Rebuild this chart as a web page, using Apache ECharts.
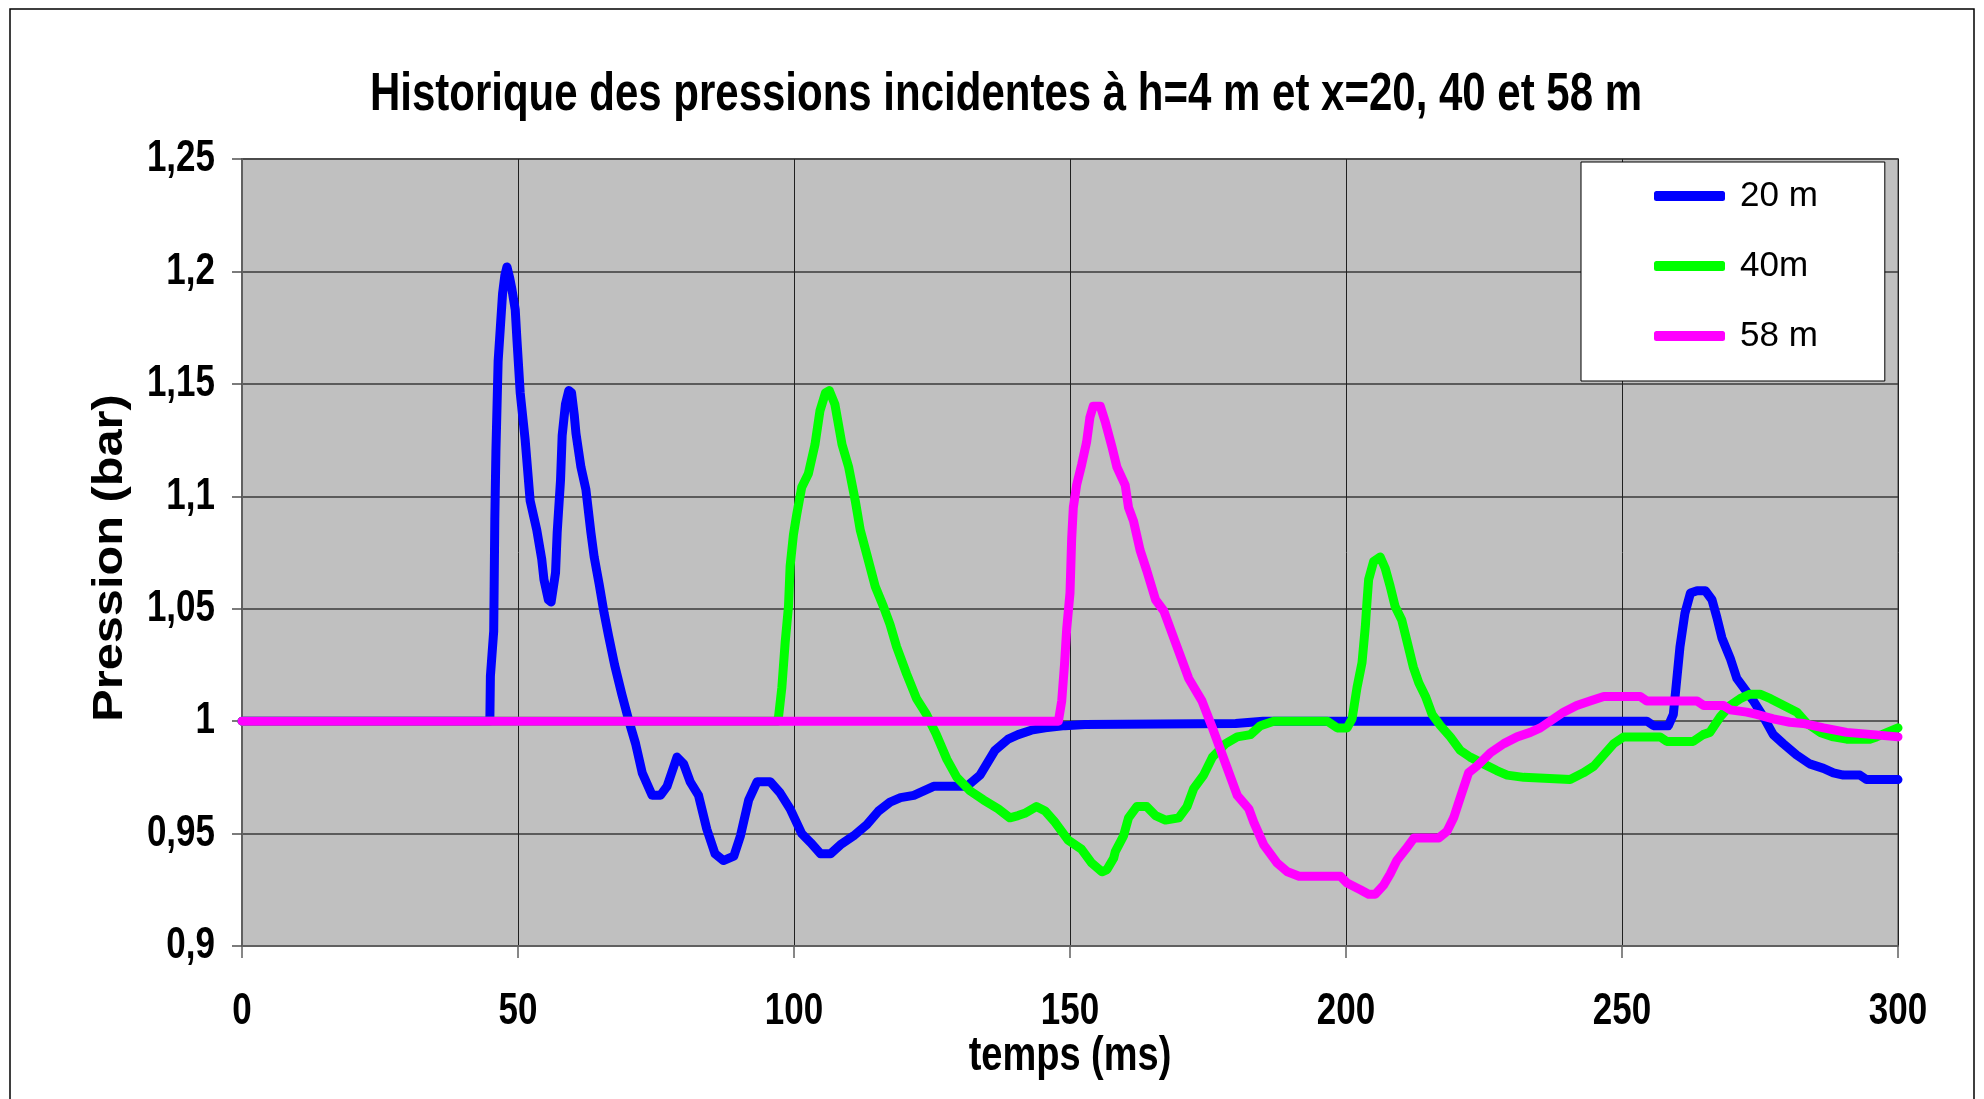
<!DOCTYPE html>
<html>
<head>
<meta charset="utf-8">
<script src="https://cdn.jsdelivr.net/npm/echarts@6/dist/echarts.min.js"></script>
<style>
  html, body { margin: 0; padding: 0; background: #fff; }
  #chart { width: 1984px; height: 1099px; }
</style>
</head>
<body>
<div id="chart"></div>
<script>
// Incident pressure histories (bar) versus time (ms) at h = 4 m
const seriesNames = ['20 m', '40m', '58 m'];
const seriesColors = ['#0000ff', '#00ff00', '#ff00ff'];

const xTicks = [0, 50, 100, 150, 200, 250, 300];
const yTicks = [0.9, 0.95, 1.0, 1.05, 1.1, 1.15, 1.2, 1.25];
const yTickLabels = ['0,9', '0,95', '1', '1,05', '1,1', '1,15', '1,2', '1,25'];

// x = 20 m
const p20 = [
  [0, 1.0], [44.9, 1.0], [45.0, 1.02], [45.3, 1.03], [45.6, 1.04], [45.8, 1.09], [46.0, 1.12],
  [46.4, 1.16], [46.8, 1.175], [47.2, 1.19], [47.6, 1.198], [48.0, 1.202], [48.5, 1.197],
  [48.9, 1.192], [49.5, 1.183], [49.8, 1.170], [50.4, 1.146], [51.3, 1.125], [52.2, 1.098],
  [53.4, 1.085], [54.3, 1.072], [54.7, 1.063], [55.5, 1.054], [56.0, 1.053], [56.8, 1.066],
  [57.1, 1.084], [57.7, 1.107], [58.0, 1.127], [58.6, 1.141], [59.2, 1.147], [59.7, 1.146],
  [60.2, 1.136], [60.5, 1.128], [61.4, 1.113], [62.3, 1.103], [63.2, 1.084], [63.8, 1.073],
  [64.7, 1.061], [65.6, 1.048], [66.4, 1.038], [67.5, 1.025], [68.8, 1.012], [70.1, 1.0],
  [71.3, 0.990], [72.5, 0.977], [74.3, 0.967], [75.8, 0.967], [77.0, 0.971], [78.8, 0.984],
  [80.0, 0.981], [81.2, 0.973], [82.7, 0.967], [84.2, 0.952], [85.7, 0.941], [87.2, 0.938],
  [89.1, 0.940], [90.3, 0.949], [91.8, 0.965], [93.3, 0.973], [95.7, 0.973], [97.5, 0.968],
  [99.3, 0.961], [101.4, 0.950], [103.0, 0.946], [104.8, 0.941], [106.6, 0.941], [108.4, 0.945],
  [110.8, 0.949], [113.2, 0.954], [115.3, 0.960], [117.4, 0.964], [119.3, 0.966], [121.7, 0.967],
  [123.5, 0.969], [125.3, 0.971], [131.3, 0.971], [133.7, 0.976], [136.4, 0.987], [138.8, 0.992],
  [140.6, 0.994], [143.0, 0.996], [145.5, 0.997], [149.1, 0.998], [152.7, 0.9985], [180, 0.999],
  [185, 1.0], [254.5, 1.0], [255.7, 0.998], [258.4, 0.998], [259.3, 1.003], [259.9, 1.018],
  [260.5, 1.033], [261.4, 1.048], [262.4, 1.057], [263.6, 1.058], [265.1, 1.058], [266.3, 1.054],
  [267.2, 1.046], [268.1, 1.037], [269.6, 1.028], [270.8, 1.019], [272.0, 1.015], [273.8, 1.009],
  [275.6, 1.002], [277.4, 0.994], [279.2, 0.990], [281.6, 0.985], [284.0, 0.981], [286.5, 0.979],
  [288.3, 0.977], [290.1, 0.976], [293.1, 0.976], [294.3, 0.974], [300, 0.974]
];

// x = 40 m
const p40 = [
  [0, 1.0], [97.0, 1.0], [97.2, 1.002], [97.8, 1.015], [98.4, 1.035], [99.0, 1.051], [99.3, 1.069],
  [99.9, 1.083], [100.5, 1.092], [101.4, 1.104], [102.6, 1.110], [103.8, 1.123], [104.7, 1.138],
  [105.7, 1.146], [106.4, 1.147], [107.4, 1.141], [108.7, 1.123], [109.9, 1.113], [111.1, 1.098],
  [112.0, 1.085], [113.2, 1.074], [114.7, 1.060], [116.2, 1.051], [117.4, 1.043], [118.6, 1.033],
  [120.4, 1.021], [122.2, 1.010], [124.0, 1.003], [125.8, 0.994], [127.7, 0.983], [129.5, 0.975],
  [131.9, 0.969], [134.3, 0.965], [137.0, 0.961], [139.1, 0.957], [140.6, 0.958], [141.8, 0.959],
  [143.9, 0.962], [145.5, 0.960], [147.3, 0.955], [149.7, 0.947], [152.1, 0.943], [153.9, 0.937],
  [155.8, 0.933], [156.7, 0.934], [157.9, 0.939], [158.2, 0.942], [159.7, 0.949], [160.6, 0.957],
  [162.1, 0.962], [163.9, 0.962], [165.5, 0.958], [167.3, 0.956], [169.7, 0.957], [171.2, 0.962],
  [172.4, 0.970], [174.2, 0.976], [175.8, 0.984], [178.2, 0.990], [180.3, 0.993], [182.7, 0.994],
  [184.5, 0.998], [186.9, 1.0], [196.6, 1.0], [198.4, 0.997], [200.2, 0.997], [201.1, 1.001],
  [202.0, 1.015], [202.9, 1.026], [203.5, 1.042], [203.8, 1.053], [204.1, 1.063], [205.0, 1.071],
  [206.2, 1.073], [207.1, 1.068], [208.0, 1.060], [208.9, 1.051], [210.1, 1.045], [211.0, 1.036],
  [212.2, 1.024], [213.2, 1.017], [214.4, 1.011], [215.6, 1.003], [217.1, 0.998], [218.9, 0.993],
  [220.7, 0.987], [222.5, 0.984], [224.9, 0.981], [227.3, 0.978], [229.2, 0.976], [232.2, 0.975],
  [240.6, 0.974], [243.0, 0.977], [244.9, 0.980], [246.7, 0.985], [248.5, 0.990], [250.3, 0.993],
  [256.9, 0.993], [258.1, 0.991], [262.9, 0.991], [264.7, 0.994], [265.9, 0.995], [267.8, 1.002],
  [269.6, 1.007], [271.4, 1.010], [273.2, 1.012], [275.0, 1.012], [276.9, 1.010], [279.3, 1.007],
  [281.7, 1.004], [283.5, 0.999], [285.9, 0.995], [288.3, 0.993], [290.7, 0.992], [294.9, 0.992],
  [296.1, 0.993], [300, 0.997]
];

// x = 58 m
const p58 = [
  [0, 1.0], [147.9, 1.0], [148.5, 1.009], [149.0, 1.025], [149.4, 1.041], [150.0, 1.057],
  [150.3, 1.081], [150.6, 1.095], [151.2, 1.105], [152.1, 1.114], [153.0, 1.124], [153.6, 1.135],
  [154.2, 1.140], [155.5, 1.140], [156.4, 1.133], [157.6, 1.122], [158.5, 1.113], [160.0, 1.105],
  [160.6, 1.095], [161.5, 1.089], [162.7, 1.076], [163.9, 1.067], [165.5, 1.054], [167.0, 1.049],
  [169.1, 1.035], [171.5, 1.019], [173.9, 1.009], [175.8, 0.997], [178.2, 0.981], [180.3, 0.967],
  [182.4, 0.961], [183.3, 0.955], [185.1, 0.945], [187.5, 0.937], [189.4, 0.933], [191.5, 0.931],
  [199.0, 0.931], [200.2, 0.928], [202.6, 0.925], [204.1, 0.923], [205.3, 0.923], [206.8, 0.927],
  [208.0, 0.932], [209.2, 0.938], [210.8, 0.943], [212.3, 0.948], [216.8, 0.948], [218.3, 0.951],
  [219.5, 0.957], [220.7, 0.966], [222.2, 0.977], [223.7, 0.980], [226.2, 0.986], [228.6, 0.990],
  [231.0, 0.993], [233.4, 0.995], [235.2, 0.997], [237.6, 1.001], [239.4, 1.004], [241.8, 1.007],
  [244.2, 1.009], [246.7, 1.011], [253.3, 1.011], [254.5, 1.009], [263.6, 1.009], [264.8, 1.007],
  [268.4, 1.007], [269.6, 1.005], [272.6, 1.004], [274.4, 1.003], [277.4, 1.001], [280.4, 0.9995],
  [282.8, 0.999], [286.5, 0.997], [290.7, 0.995], [295.5, 0.994], [300, 0.993]
];

const seriesData = [p20, p40, p58];

const FONT = '"Liberation Sans", Arial, Helvetica, sans-serif';
// The type in this figure is drawn tall and narrow: stretch vertically
const STRETCH = 1.27;

const chart = echarts.init(document.getElementById('chart'), null, { renderer: 'canvas' });

chart.setOption({
  backgroundColor: '#ffffff',
  animation: false,
  legend: {
    orient: 'vertical',
    left: 1581,
    top: 162,
    padding: [14, 67, 25, 73],
    itemGap: 30,
    itemWidth: 71,
    itemHeight: 10,
    icon: 'roundRect',
    backgroundColor: '#ffffff',
    borderColor: '#000000',
    borderWidth: 1,
    borderRadius: 0,
    textStyle: {
      fontFamily: FONT, fontSize: 35, color: '#000', lineHeight: 40,
      padding: [0, 0, 0, 10]
    },
    data: seriesNames
  },
  grid: {
    left: 242, top: 159, right: 86, bottom: 153,
    show: true,
    backgroundColor: '#c0c0c0',
    borderColor: '#808080',
    borderWidth: 2
  },
  xAxis: {
    type: 'value',
    min: xTicks[0],
    max: xTicks[xTicks.length - 1],
    interval: 50,
    axisLine: { show: true, onZero: false, lineStyle: { color: '#606060', width: 2 } },
    axisTick: { show: true, inside: false, length: 12, lineStyle: { color: '#606060', width: 1.5 } },
    axisLabel: { show: false },
    splitLine: { show: true, lineStyle: { color: '#202020', width: 1 } }
  },
  yAxis: {
    type: 'value',
    min: yTicks[0],
    max: yTicks[yTicks.length - 1],
    interval: 0.05,
    axisLine: { show: true, lineStyle: { color: '#606060', width: 2 } },
    axisTick: { show: true, inside: false, length: 10, lineStyle: { color: '#505050', width: 1.5 } },
    axisLabel: { show: false },
    splitLine: { show: true, lineStyle: { color: '#3a3a3a', width: 1.5 } }
  },
  series: seriesData.map(function (d, i) {
    return {
      name: seriesNames[i],
      type: 'line',
      data: d,
      showSymbol: false,
      symbol: 'none',
      smooth: false,
      color: seriesColors[i],
      lineStyle: { color: seriesColors[i], width: 9, cap: 'round', join: 'round' },
      z: 2 + i
    };
  })
});

// Static decorations and titles
const elements = [
  {
    type: 'rect',
    silent: true,
    shape: { x: 10, y: 9, width: 1964, height: 1200 },
    style: { fill: 'none', stroke: '#000', lineWidth: 1.5 }
  },
  {
    type: 'text',
    silent: true,
    x: 1006, y: 95,
    scaleY: STRETCH,
    style: {
      text: 'Historique des pressions incidentes à h=4 m et x=20, 40 et 58 m',
      fill: '#000',
      font: 'bold 42px ' + FONT,
      textAlign: 'center', textVerticalAlign: 'middle'
    }
  },
  {
    type: 'text',
    silent: true,
    x: 1070, y: 1057,
    scaleY: STRETCH,
    style: {
      text: 'temps (ms)', fill: '#000',
      font: 'bold 38px ' + FONT,
      textAlign: 'center', textVerticalAlign: 'middle'
    }
  },
  {
    type: 'text',
    silent: true,
    x: 110, y: 558,
    rotation: Math.PI / 2,
    scaleX: 1.16,
    style: {
      text: 'Pression (bar)', fill: '#000',
      font: 'bold 42px ' + FONT,
      textAlign: 'center', textVerticalAlign: 'middle'
    }
  }
];

// Tick labels, placed with the axes' own scales
const tickFont = 'bold 35px ' + FONT;
yTicks.forEach(function (v, i) {
  const pt = chart.convertToPixel({ gridIndex: 0 }, [xTicks[0], v]);
  elements.push({
    type: 'text', silent: true,
    x: pt[0] - 27, y: pt[1],
    scaleY: STRETCH,
    style: { text: yTickLabels[i], fill: '#000', font: tickFont, textAlign: 'right', textVerticalAlign: 'middle' }
  });
});
xTicks.forEach(function (v) {
  const pt = chart.convertToPixel({ gridIndex: 0 }, [v, yTicks[0]]);
  elements.push({
    type: 'text', silent: true,
    x: pt[0], y: pt[1] + 66,
    scaleY: STRETCH,
    style: { text: String(v), fill: '#000', font: tickFont, textAlign: 'center', textVerticalAlign: 'middle' }
  });
});

chart.setOption({ graphic: elements });
</script>
</body>
</html>
